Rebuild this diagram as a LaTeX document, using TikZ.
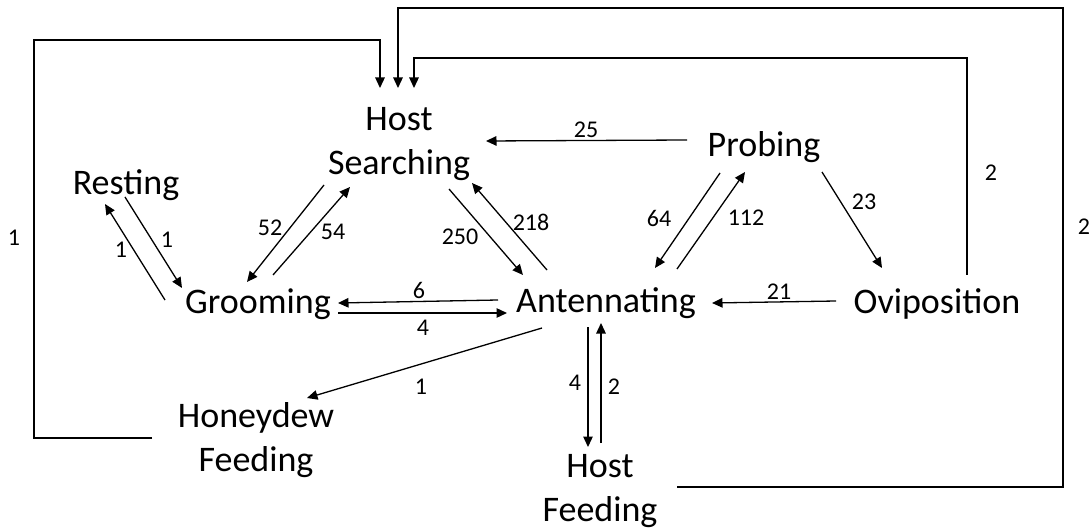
\documentclass[tikz,border=0pt]{standalone}
\usepackage{fontspec}
\setmainfont{Carlito}
\usetikzlibrary{arrows.meta}
\begin{document}
\begin{tikzpicture}[x=1pt,y=-1pt,
  state/.style={inner sep=0pt,align=center,font=\fontsize{36}{43.5}\selectfont},
  lab/.style={inner sep=0pt,font=\fontsize{24}{28}\selectfont},
  arr/.style={line width=1.3pt,-{Triangle[length=10.5pt,width=9.5pt]}},
  ln/.style={line width=1.3pt}]
\useasboundingbox (0,0) rectangle (1089,529);
% states
\node[state,anchor=center] (hs) at (399,144) {Host\\Searching};
\node[state,anchor=base] (rest) at (126,195) {Resting};
\node[state,anchor=base] (prob) at (764,157) {Probing};
\node[state,anchor=base] (groom) at (258,313) {Grooming};
\node[state,anchor=base] (ant) at (606,312) {Antennating};
\node[state,anchor=base] (ovi) at (937,313) {Oviposition};
\node[state,anchor=center] (hd) at (256,440) {Honeydew\\Feeding};
\node[state,anchor=center] (hf) at (600,491) {Host\\Feeding};
% loops to Host Searching
\draw[arr] ([shift={(-104,-2)}]hd.center) -| (34,40) -| ([shift={(-19,-56)}]hs.center);
\draw[arr] ([shift={(77,-4)}]hf.center) -| (1063,8) -| ([shift={(-1,-56)}]hs.center);
\draw[arr] ([shift={(30,-38)}]ovi.base) |- (414,58) -- ([shift={(15,-56)}]hs.center);
% Probing -> Host Searching
\draw[arr] ([shift={(-77,-17)}]prob.base) -- ([shift={(87,-3)}]hs.center);
% Resting <-> Grooming
\draw[arr] ([shift={(-93,-13)}]groom.base) -- ([shift={(-21,9)}]rest.base);
\draw[arr] ([shift={(-1,2)}]rest.base) -- ([shift={(-76,-25)}]groom.base);
% Grooming <-> Host Searching
\draw[arr] ([shift={(-75,41)}]hs.center) -- ([shift={(-11,-31)}]groom.base);
\draw[arr] ([shift={(15,-38)}]groom.base) -- ([shift={(-49,43)}]hs.center);
% Host Searching <-> Antennating
\draw[arr] ([shift={(50,45)}]hs.center) -- ([shift={(-83,-37)}]ant.base);
\draw[arr] ([shift={(-59,-42)}]ant.base) -- ([shift={(73,39)}]hs.center);
% Probing <-> Antennating
\draw[arr] ([shift={(-44,16)}]prob.base) -- ([shift={(49,-44)}]ant.base);
\draw[arr] ([shift={(71,-43)}]ant.base) -- ([shift={(-19,15)}]prob.base);
% Probing -> Oviposition
\draw[arr] ([shift={(58,15)}]prob.base) -- ([shift={(-55,-45)}]ovi.base);
% Oviposition -> Antennating
\draw[arr] ([shift={(-101,-12)}]ovi.base) -- ([shift={(106,-9)}]ant.base);
% Antennating <-> Grooming
\draw[arr] ([shift={(-108,-12)}]ant.base) -- ([shift={(80,-10)}]groom.base);
\draw[arr] ([shift={(80,0)}]groom.base) -- ([shift={(-99,1)}]ant.base);
% Antennating -> Honeydew Feeding
\draw[arr] ([shift={(-64,16)}]ant.base) -- ([shift={(51,-42)}]hd.center);
% Antennating <-> Host Feeding
\draw[arr] ([shift={(-18,15)}]ant.base) -- ([shift={(-12,-44)}]hf.center);
\draw[arr] ([shift={(1,-48)}]hf.center) -- ([shift={(-5,11)}]ant.base);
% labels
\node[lab] (l1) at (14,238) {1};
\node[lab] (l2) at (991,173) {2};
\node[lab] (l3) at (1084,227) {2};
\node[lab] (l4) at (586,130) {25};
\node[lab] (l5) at (121,250) {1};
\node[lab] (l6) at (167,240) {1};
\node[lab] (l7) at (270,228) {52};
\node[lab] (l8) at (333,232) {54};
\node[lab] (l9) at (460,237) {250};
\node[lab] (l10) at (531,222) {218};
\node[lab] (l11) at (659,218) {64};
\node[lab] (l12) at (746,218) {112};
\node[lab] (l13) at (864,202) {23};
\node[lab] (l14) at (779,292) {21};
\node[lab] (l15) at (419,290) {6};
\node[lab] (l16) at (423,328) {4};
\node[lab] (l17) at (421,387) {1};
\node[lab] (l18) at (575,383) {4};
\node[lab] (l19) at (614,387) {2};
\end{tikzpicture}
\end{document}
